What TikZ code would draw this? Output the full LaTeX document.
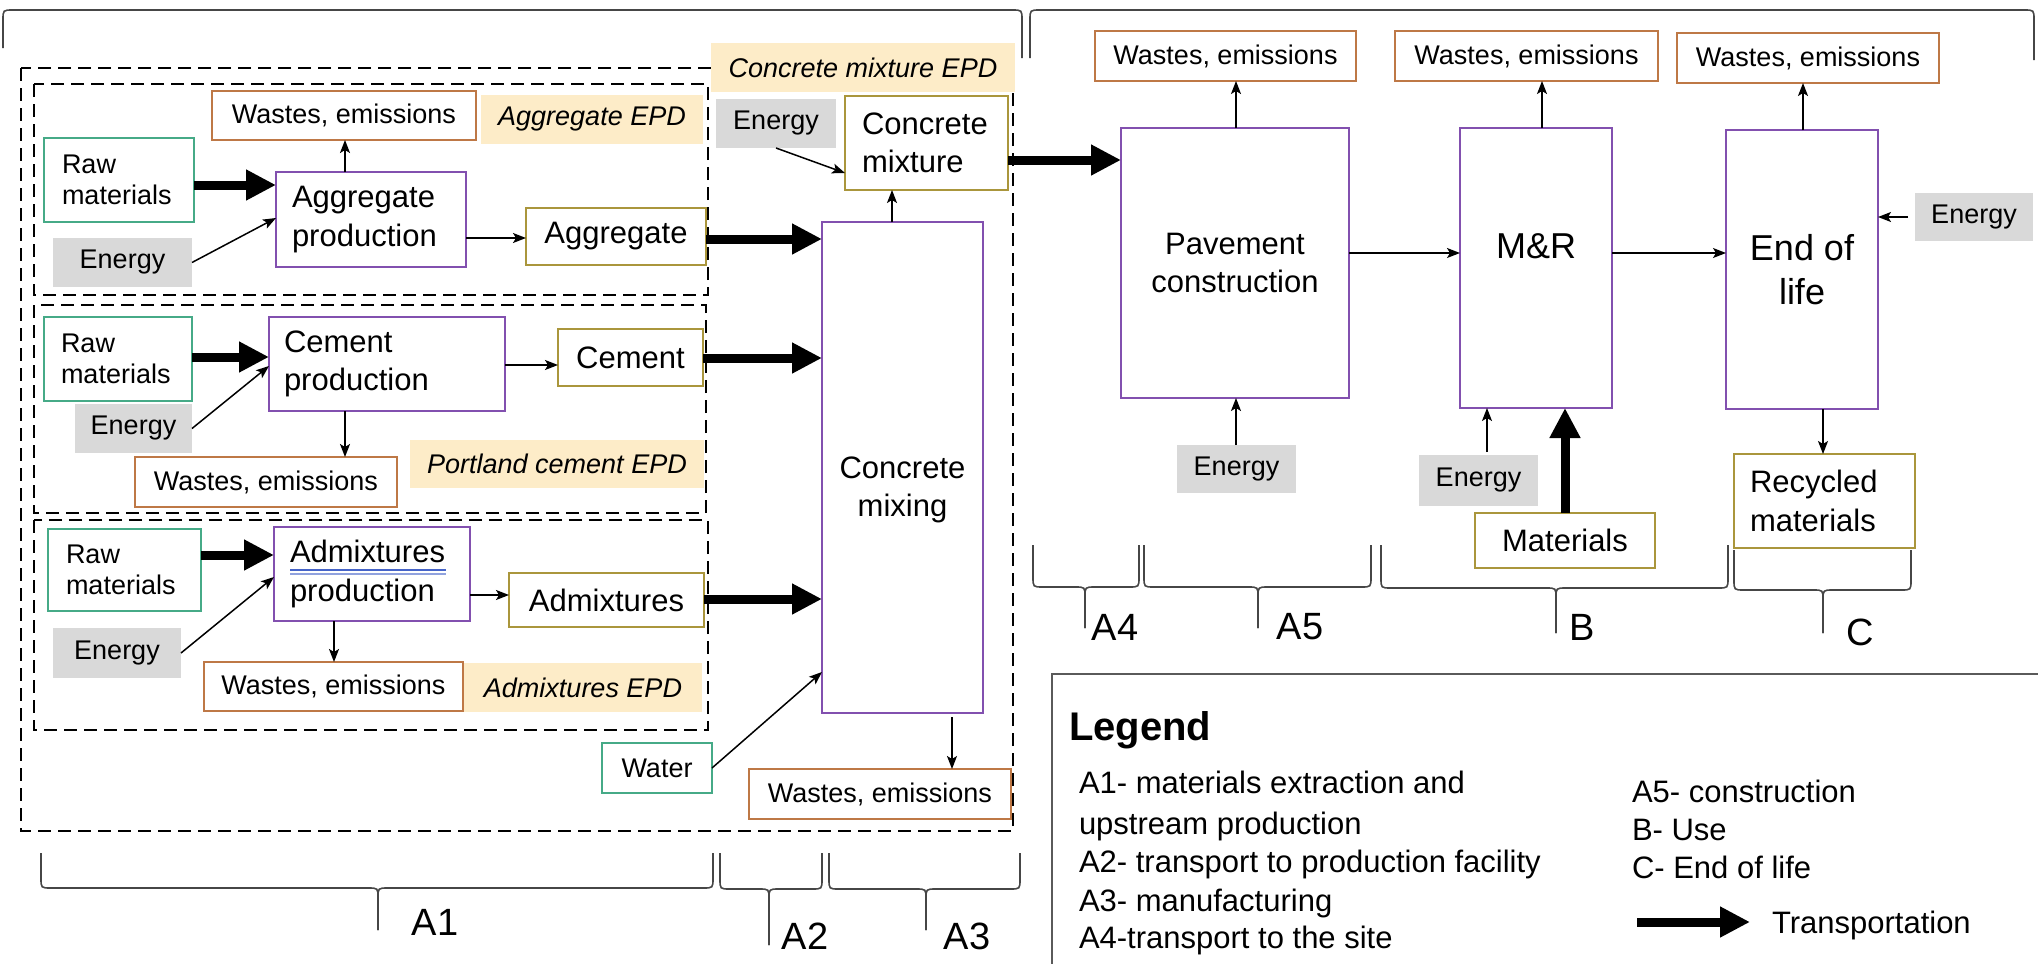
\documentclass[tikz,border=0pt]{standalone}
\usepackage{fontspec}
\setmainfont{Liberation Sans}
\usetikzlibrary{arrows.meta,calc}
\definecolor{cgrn}{RGB}{70,170,135}
\definecolor{cpur}{RGB}{130,80,175}
\definecolor{corg}{RGB}{190,120,70}
\definecolor{cgold}{RGB}{170,150,60}
\definecolor{cgry}{RGB}{217,217,217}
\definecolor{cepd}{RGB}{253,236,200}
\definecolor{cbrc}{RGB}{70,70,70}
\definecolor{clg}{RGB}{90,90,90}
\definecolor{culb}{RGB}{70,100,200}
\newcommand\fntA{\fontsize{27}{31}\selectfont}
\newcommand\fntB{\fontsize{31}{38.5}\selectfont}
\newcommand\fntC{\fontsize{36}{44}\selectfont}
\newcommand\fntD{\fontsize{38}{44}\selectfont}
\newcommand\fntL{\fontsize{40}{46}\selectfont\bfseries}
\newcommand\mybrace[6]{%
  \draw[brc] (#1,#4) -- (#1,#5-10) .. controls (#1,#5) .. (#1+10,#5) -- (#3-10,#5) .. controls (#3,#5) .. (#3,#5+10) -- (#3,#6);
  \draw[brc] (#3,#6) -- (#3,#5+10) .. controls (#3,#5) .. (#3+10,#5) -- (#2-10,#5) .. controls (#2,#5) .. (#2,#5-10) -- (#2,#4);}
\begin{document}
\begin{tikzpicture}[x=1pt,y=-1pt,
  base/.style={inner sep=0pt, outer sep=0pt, align=center, text=black},
  grnbox/.style={base, draw=cgrn, line width=1.8pt, fill=white, font=\fntA},
  purbox/.style={base, draw=cpur, line width=1.6pt, fill=white, font=\fntB},
  wbox/.style={base, draw=corg, line width=1.8pt, fill=white, font=\fntA},
  gbox/.style={base, draw=cgold, line width=1.8pt, fill=white, font=\fntB},
  ebox/.style={base, fill=cgry, font=\fntA},
  epd/.style={base, fill=cepd, font=\fntA\itshape},
  arr/.style={line width=1.5pt, -{Stealth[length=13pt,width=10pt,inset=3pt]}},
  big/.style={line width=9pt, -{Triangle[length=30pt,width=29pt]}},
  dsh/.style={line width=2pt, dash pattern=on 13pt off 7pt},
  brc/.style={line width=1.6pt, draw=cbrc},
  lt/.style={base, font=\fntB, anchor=base west},
  blab/.style={base, font=\fntD}]
\useasboundingbox (0,0) rectangle (2038,964);
\fill[white] (0,0) rectangle (2038,964);

% top braces
\draw[brc] (3,48) -- (3,20) .. controls (3,10) .. (13,10) -- (1012,10) .. controls (1022,10) .. (1022,20) -- (1022,58);
\draw[brc] (1030,58) -- (1030,20) .. controls (1030,10) .. (1040,10) -- (2024,10) .. controls (2034,10) .. (2034,20) -- (2034,60);

% dashed frames
\draw[dsh] (21,68) rectangle (1013,831);
\draw[dsh] (34,84) rectangle (708,295);
\draw[dsh] (34,305) rectangle (706,513);
\draw[dsh] (34,520) rectangle (708,730);

% EPD labels
\node[epd, minimum width=304pt, minimum height=49pt] (epd0) at (863,67.5) {Concrete mixture EPD};
\node[epd, minimum width=222pt, minimum height=49pt] (epd1) at (592,119.5) {Aggregate EPD};
\node[epd, minimum width=294pt, minimum height=48pt] (epd2) at (557,464) {Portland cement EPD};
\node[epd, minimum width=238pt, minimum height=49pt] (epd3) at (583,687.5) {Admixtures EPD};

% aggregate group
\node[wbox, minimum width=264pt, minimum height=49pt] (ww1) at (344,115.5) {Wastes, emissions};
\node[grnbox, text width=114pt, inner xsep=18pt, minimum height=84pt, align=left] (raw1) at (119,180) {Raw\\materials};
\node[ebox, minimum width=139pt, minimum height=49pt] (en1) at (122.5,262.5) {Energy};
\node[purbox, text width=158pt, inner xsep=16pt, minimum height=95pt, align=left] (ap) at (371,219.5) {Aggregate\\production};
\node[gbox, minimum width=180pt, minimum height=57pt] (agg) at (616,236.5) {Aggregate};

% concrete
\node[purbox, minimum width=161pt, minimum height=491pt] (mix) at (902.5,467.5) {};
\node[base, font=\fntB] (mixt) at (902.5,490) {Concrete\\mixing};
\node[gbox, text width=129pt, inner xsep=17pt, minimum height=94pt, align=left] (cm) at (926.5,143) {Concrete\\mixture};
\node[ebox, minimum width=120pt, minimum height=49pt] (en2) at (776,123.5) {Energy};

% cement
\node[grnbox, text width=114pt, inner xsep=17pt, minimum height=84pt, align=left] (raw2) at (118,359) {Raw\\materials};
\node[ebox, minimum width=117pt, minimum height=49pt] (en2b) at (133.5,428.5) {Energy};
\node[purbox, text width=206pt, inner xsep=15pt, minimum height=94pt, align=left] (cp) at (387,364) {Cement\\production};
\node[gbox, minimum width=145pt, minimum height=57pt] (cem) at (630.5,357.5) {Cement};
\node[wbox, minimum width=262pt, minimum height=50pt] (ww2) at (266,482) {Wastes, emissions};

% admixtures
\node[grnbox, text width=117pt, inner xsep=18pt, minimum height=82pt, align=left] (raw3) at (124.5,570) {Raw\\materials};
\node[purbox, text width=164pt, inner xsep=16pt, minimum height=94pt, align=left] (ap3) at (372,574) {Admixtures\\production};
\draw[culb, line width=1.3pt] (290,570) -- (446,570);
\draw[culb!60, line width=1.3pt] (290,574) -- (446,574);
\node[gbox, minimum width=195pt, minimum height=54pt] (adm) at (606.5,600) {Admixtures};
\node[ebox, minimum width=128pt, minimum height=50pt] (en3) at (117,653) {Energy};
\node[wbox, minimum width=259pt, minimum height=49pt] (ww3) at (333.5,686.5) {Wastes, emissions};

\node[grnbox, minimum width=110pt, minimum height=50pt] (water) at (657,768) {Water};
\node[wbox, minimum width=262pt, minimum height=50pt] (ww4) at (880,794) {Wastes, emissions};

% right part
\node[wbox, minimum width=261pt, minimum height=50pt] (ww5) at (1225.5,56) {Wastes, emissions};
\node[wbox, minimum width=263pt, minimum height=50pt] (ww6) at (1526.5,56) {Wastes, emissions};
\node[wbox, minimum width=262pt, minimum height=50pt] (ww7) at (1808,58) {Wastes, emissions};
\node[purbox, minimum width=228pt, minimum height=270pt] (pav) at (1235,263) {Pavement\\construction};
\node[purbox, minimum width=152pt, minimum height=280pt] (mr) at (1536,268) {};
\node[base, font=\fntC] (mrt) at (1536,246) {M\&R};
\node[purbox, font=\fntC, minimum width=152pt, minimum height=279pt] (eol) at (1802,269.5) {End of\\life};
\node[ebox, minimum width=118pt, minimum height=48pt] (en5) at (1974,217) {Energy};
\node[ebox, minimum width=119pt, minimum height=48pt] (en6) at (1236.5,469) {Energy};
\node[ebox, minimum width=119pt, minimum height=51pt] (en7) at (1478.5,480.5) {Energy};
\node[gbox, minimum width=180pt, minimum height=55pt] (mat) at (1565,540.5) {Materials};
\node[gbox, text width=149pt, inner xsep=16pt, minimum height=94pt, align=left] (rec) at (1824.5,501) {Recycled\\materials};

% thin arrows
\draw[arr] (en1.east) -- (ap.west |- 0,218);
\draw[arr] (ap.north -| 345,0) -- (ww1.south -| 345,0);
\draw[arr] (ap.east |- 0,238) -- (agg.west |- 0,238);
\draw[arr] (en2.south) -- (cm.west |- 0,173);
\draw[arr] (mix.north -| 892,0) -- (cm.south -| 892,0);
\draw[arr] (en2b.east) -- (cp.west |- 0,366);
\draw[arr] (cp.east |- 0,365) -- (cem.west |- 0,365);
\draw[arr] (cp.south -| 345,0) -- (ww2.north -| 345,0);
\draw[arr] (en3.east) -- (ap3.west |- 0,577);
\draw[arr] (ap3.east |- 0,595) -- (adm.west |- 0,595);
\draw[arr] (ap3.south -| 334,0) -- (ww3.north -| 334,0);
\draw[arr] (water.east) -- (mix.west |- 0,672);
\draw[arr, shorten <=4pt] (mix.south -| 952,0) -- (ww4.north -| 952,0);
\draw[arr] (pav.north -| 1236,0) -- (ww5.south -| 1236,0);
\draw[arr] (mr.north -| 1542,0) -- (ww6.south -| 1542,0);
\draw[arr] (eol.north -| 1803,0) -- (ww7.south -| 1803,0);
\draw[arr] (pav.east |- 0,253) -- (mr.west |- 0,253);
\draw[arr] (mr.east |- 0,253) -- (eol.west |- 0,253);
\draw[arr, shorten <=7pt] (en5.west) -- (eol.east |- en5.west);
\draw[arr] (en6.north -| 1236,0) -- (pav.south -| 1236,0);
\draw[arr, shorten <=3pt] (en7.north -| 1487,0) -- (mr.south -| 1487,0);
\draw[arr] (eol.south -| 1823,0) -- (rec.north -| 1823,0);

% transport arrows
\draw[big] (raw1.east |- 0,185) -- (ap.west |- 0,185);
\draw[big] (agg.east |- 0,239) -- (mix.west |- 0,239);
\draw[big] (raw2.east |- 0,357) -- (cp.west |- 0,357);
\draw[big] (cem.east |- 0,358) -- (mix.west |- 0,358);
\draw[big] (raw3.east |- 0,555) -- (ap3.west |- 0,555);
\draw[big] (adm.east |- 0,599) -- (mix.west |- 0,599);
\draw[big] (cm.east |- 0,160) -- (pav.west |- 0,160);
\draw[big] (mat.north -| 1565,0) -- (mr.south -| 1565,0);

% bottom braces
\mybrace{41}{713}{378}{853}{888}{930}
\mybrace{720}{822}{769}{853}{889}{945}
\mybrace{829}{1020}{926}{853}{889}{930}
\node[blab] (la1) at (435,922) {A1};
\node[blab] (la2) at (805,936) {A2};
\node[blab] (la3) at (967,936) {A3};

\mybrace{1033}{1139}{1085}{545}{587}{628}
\mybrace{1144}{1371}{1258}{545}{587}{628}
\mybrace{1381}{1728}{1556}{545}{588}{633}
\mybrace{1734}{1911}{1823}{550}{590}{633}
\node[blab] (la4) at (1115,627) {A4};
\node[blab] (la5) at (1300,627) {A5};
\node[blab] (lb) at (1582,627) {B};
\node[blab] (lc) at (1860,632) {C};

% legend
\draw[line width=2pt, draw=clg] (1052,964) |- (2038,674);
\node[base, font=\fntL, anchor=base west] (lgd) at (1069,740) {Legend};
\node[lt] (l1) at (1079,793) {A1- materials extraction and};
\node[lt] (l2) at (1079,834) {upstream production};
\node[lt] (l3) at (1079,872) {A2- transport to production facility};
\node[lt] (l4) at (1079,911) {A3- manufacturing};
\node[lt] (l5) at (1079,948) {A4-transport to the site};
\node[lt] (l6) at (1632,802) {A5- construction};
\node[lt] (l7) at (1632,840) {B- Use};
\node[lt] (l8) at (1632,878) {C- End of life};
\coordinate (ta) at (1637,922);
\coordinate (tb) at (1750,922);
\draw[big] (ta) -- (tb);
\node[lt] (l9) at (1772,933) {Transportation};
\end{tikzpicture}
\end{document}
